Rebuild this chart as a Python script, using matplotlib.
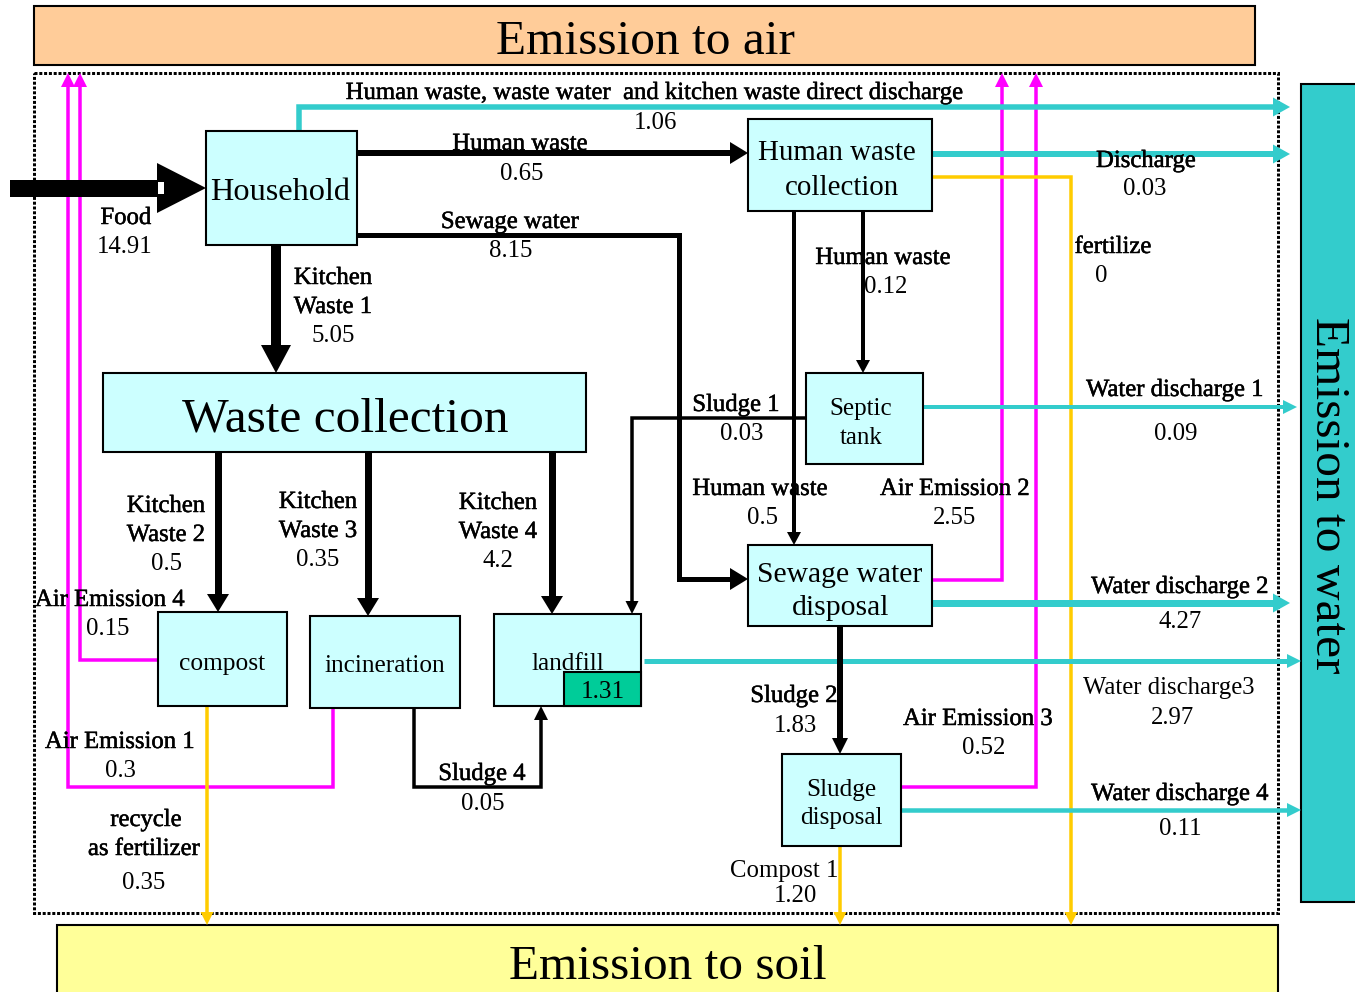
import matplotlib
matplotlib.use('Agg')
import matplotlib.pyplot as plt
from matplotlib.patches import Rectangle, Polygon
import matplotlib.patheffects as pe
import numpy as np

# ---------------- data (flow labels and values) ----------------
household_flows = ["Food", "Human waste", "Sewage water", "Kitchen\nWaste 1",
                   "Human waste, waste water  and kitchen waste direct discharge"]
household_values = ["14.91", "0.65", "8.15", "5.05", "1.06"]

hwc_flows = ["Discharge", "fertilize", "Human waste", "Human waste"]
hwc_values = ["0.03", "0", "0.12", "0.5"]

septic_flows = ["Sludge 1", "Water discharge 1"]
septic_values = ["0.03", "0.09"]

kitchen_flows = ["Kitchen\nWaste 2", "Kitchen\nWaste 3", "Kitchen\nWaste 4"]
kitchen_values = ["0.5", "0.35", "4.2"]

sewage_flows = ["Air Emission 2", "Water discharge 2", "Sludge 2"]
sewage_values = ["2.55", "4.27", "1.83"]

treatment_flows = ["Air Emission 4", "Air Emission 1", "Sludge 4", "recycle\nas fertilizer",
                   "Water discharge3"]
treatment_values = ["0.15", "0.3", "0.05", "0.35", "2.97"]
landfill_stock = "1.31"

sludge_flows = ["Air Emission 3", "Water discharge 4", "Compost 1"]
sludge_values = ["0.52", "0.11", "1.20"]

# ---------------- drawing ----------------
W, H = 1355, 992
fig = plt.figure(figsize=(13.55, 9.92), dpi=100)
ax = fig.add_axes([0, 0, 1, 1])
ax.set_xlim(0, W)
ax.set_ylim(H, 0)
ax.axis('off')

PX = 72 / 100.0
FONT = 'Liberation Serif'
CYANBOX = '#CCFFFF'
CYAN = '#33CCCC'
MAG = '#FF00FF'
YEL = '#FFCC00'
LBL = 17.8
DY = 3


def line(pts, color, w, z=2):
    xs, ys = zip(*pts)
    ax.plot(xs, ys, color=color, lw=w * PX, solid_capstyle='butt',
            solid_joinstyle='miter', zorder=z)


def arrow(pts, color, w, hl, hw, z=2):
    (x0, y0), (x1, y1) = pts[-2], pts[-1]
    d = np.array([x1 - x0, y1 - y0], float)
    d /= np.hypot(*d)
    n = np.array([-d[1], d[0]])
    tip = np.array([x1, y1], float)
    base = tip - d * hl
    line(list(pts[:-1]) + [tuple(base + d * 1)], color, w, z)
    tri = [tuple(tip), tuple(base + n * hw / 2), tuple(base - n * hw / 2)]
    ax.add_patch(Polygon(tri, closed=True, facecolor=color, edgecolor='none', zorder=z))


def box(x0, y0, x1, y1, fc=CYANBOX, lw=1.5, z=3):
    ax.add_patch(Rectangle((x0, y0), x1 - x0, y1 - y0, facecolor=fc,
                           edgecolor='black', lw=lw, zorder=z))


def txt(x, y, s, size=LBL, z=6, heavy=True, **kw):
    effects = [pe.withStroke(linewidth=0.35, foreground='black')] if heavy else None
    ax.text(x, y + DY, s, ha='center', va='center', fontsize=size, family=FONT,
            zorder=z, path_effects=effects, **kw)


def lines_txt(x, y0, s, dy=29, size=LBL):
    parts = s.split("\n")
    for i, part in enumerate(parts):
        txt(x, y0 + i * dy, part, size=size, heavy=(i < len(parts) - 1))


# outer emission boxes
box(34, 6, 1255, 65, fc='#FFCC99', lw=1.5, z=1)
txt(645, 39, "Emission to air", size=35.6, heavy=False)
box(1301, 84, 1362, 902, fc=CYAN, lw=1.5, z=1)
txt(1328, 492, "Emission to water", size=35.6, heavy=False, rotation=-90)
box(57, 925, 1278, 1000, fc='#FFFF99', lw=1.5, z=1)
txt(668, 964, "Emission to soil", size=35.5, heavy=False)

# dotted system boundary
ax.add_patch(Rectangle((34, 73), 1278 - 34, 913 - 73, facecolor='none',
                       edgecolor='black', lw=3 * PX, linestyle=(0, (1, 0.6)), zorder=1.5))

# ---- magenta air emissions ----
arrow([(160, 660), (80, 660), (80, 73)], MAG, 3.5, 14, 14)
arrow([(333, 708), (333, 787), (68, 787), (68, 73)], MAG, 3.5, 14, 14)
arrow([(932, 580), (1002, 580), (1002, 73)], MAG, 3.5, 14, 14)
arrow([(901, 787), (1036, 787), (1036, 73)], MAG, 3.5, 14, 14)

# ---- yellow soil emissions ----
arrow([(932, 177), (1071, 177), (1071, 925)], YEL, 3.5, 13, 13)
arrow([(207, 706), (207, 925)], YEL, 3.5, 13, 13)
arrow([(840, 846), (840, 925)], YEL, 3.5, 13, 13)

# ---- cyan water emissions ----
arrow([(299, 131), (299, 107), (1290, 107)], CYAN, 5.5, 17, 19)
arrow([(932, 154), (1290, 154)], CYAN, 6, 17, 19)
arrow([(923, 407), (1297, 407)], CYAN, 4, 14, 14)
arrow([(932, 603), (1290, 603)], CYAN, 7, 17, 19)
arrow([(644, 661), (1301, 661)], CYAN, 5, 14, 14)
arrow([(901, 810), (1301, 810)], CYAN, 4.5, 14, 14)

# ---- black material flows ----
# food
ax.add_patch(Rectangle((10, 180), 150, 17, facecolor='black', edgecolor='none', zorder=2))
ax.add_patch(Polygon([(157, 163), (206, 188), (157, 213)], closed=True,
                     facecolor='black', edgecolor='none', zorder=2))
ax.add_patch(Rectangle((158, 182), 6, 12, facecolor='white', edgecolor='none', zorder=2.1))

arrow([(357, 153), (748, 153)], 'black', 6, 18, 22)
arrow([(357, 235), (679, 235), (679, 579), (748, 579)], 'black', 5, 18, 22)
arrow([(276, 245), (276, 373)], 'black', 10, 28, 30)
arrow([(794, 211), (794, 545)], 'black', 4, 13, 14)
arrow([(863, 211), (863, 373)], 'black', 4, 13, 14)
arrow([(806, 418), (632, 418), (632, 614)], 'black', 3.5, 13, 13)
arrow([(218, 452), (218, 612)], 'black', 7, 18, 22)
arrow([(368, 452), (368, 616)], 'black', 7, 18, 22)
arrow([(552, 452), (552, 614)], 'black', 7, 18, 22)
arrow([(840, 626), (840, 754)], 'black', 6, 16, 16)
arrow([(414, 708), (414, 787), (541, 787), (541, 706)], 'black', 3.5, 14, 14)

# ---- process boxes ----
box(206, 131, 357, 245)
txt(280, 189, "Household", size=23.2, heavy=False)
box(748, 119, 932, 211)
txt(837, 150, "Human waste", size=20.8, heavy=False)
txt(842, 185, "collection", size=20.8, heavy=False)
box(103, 373, 586, 452)
txt(345, 416, "Waste collection", size=35.6, heavy=False)
box(806, 373, 923, 464)
txt(861, 406, "Septic", size=18, heavy=False)
txt(861, 435, "tank", size=18, heavy=False)
box(748, 545, 932, 626)
txt(840, 572, "Sewage water", size=21.3, heavy=False)
txt(841, 605, "disposal", size=21.3, heavy=False)
box(158, 612, 287, 706)
txt(222, 661, "compost", size=18.3, heavy=False)
box(310, 616, 460, 708)
txt(385, 663, "incineration", size=18.2, heavy=False)
box(494, 614, 641, 706)
txt(568, 661, "landfill", size=18.2, heavy=False)
box(564, 672, 641, 706, fc='#00CC99', z=3.5)
txt(603, 689, landfill_stock, size=18.2, heavy=False)
box(782, 754, 901, 846)
txt(841, 787, "Sludge", size=18.2, heavy=False)
txt(841, 815, "disposal", size=18.2, heavy=False)

# ---- flow labels ----
txt(126, 215, household_flows[0]); txt(125, 244, household_values[0], heavy=False)
txt(520, 141, household_flows[1]); txt(522, 171, household_values[1], heavy=False)
txt(510, 219, household_flows[2]); txt(511, 248, household_values[2], heavy=False)
lines_txt(333, 275, household_flows[3] + "\n" + household_values[3])
txt(655, 90, household_flows[4]); txt(655, 120, household_values[4], heavy=False)

txt(1146, 158, hwc_flows[0]); txt(1145, 186, hwc_values[0], heavy=False)
txt(1113, 244, hwc_flows[1]); txt(1101, 273, hwc_values[1], heavy=False)
txt(883, 255, hwc_flows[2]); txt(886, 284, hwc_values[2], heavy=False)
txt(760, 486, hwc_flows[3]); txt(762, 515, hwc_values[3], heavy=False)

txt(736, 402, septic_flows[0]); txt(742, 431, septic_values[0], heavy=False)
txt(1175, 387, septic_flows[1]); txt(1176, 431, septic_values[1], heavy=False)

lines_txt(166, 503, kitchen_flows[0] + "\n" + kitchen_values[0])
lines_txt(318, 499, kitchen_flows[1] + "\n" + kitchen_values[1])
lines_txt(498, 500, kitchen_flows[2] + "\n" + kitchen_values[2])

txt(955, 486, sewage_flows[0]); txt(955, 515, sewage_values[0], heavy=False)
txt(1180, 584, sewage_flows[1]); txt(1180, 619, sewage_values[1], heavy=False)
txt(794, 693, sewage_flows[2]); txt(795, 723, sewage_values[2], heavy=False)

txt(110, 597, treatment_flows[0]); txt(108, 626, treatment_values[0], heavy=False)
txt(120, 739, treatment_flows[1]); txt(120, 768, treatment_values[1], heavy=False)
txt(482, 771, treatment_flows[2]); txt(483, 801, treatment_values[2], heavy=False)
r1, r2 = treatment_flows[3].split("\n")
txt(146, 817, r1); txt(144, 846, r2); txt(144, 880, treatment_values[3], heavy=False)
txt(1169, 685, treatment_flows[4], heavy=False); txt(1173, 715, treatment_values[4], heavy=False)

txt(978, 716, sludge_flows[0]); txt(984, 745, sludge_values[0], heavy=False)
txt(1180, 791, sludge_flows[1]); txt(1180, 826, sludge_values[1], heavy=False)
txt(784, 868, sludge_flows[2], heavy=False); txt(795, 893, sludge_values[2], heavy=False)

fig.savefig('out.png', dpi=100)
